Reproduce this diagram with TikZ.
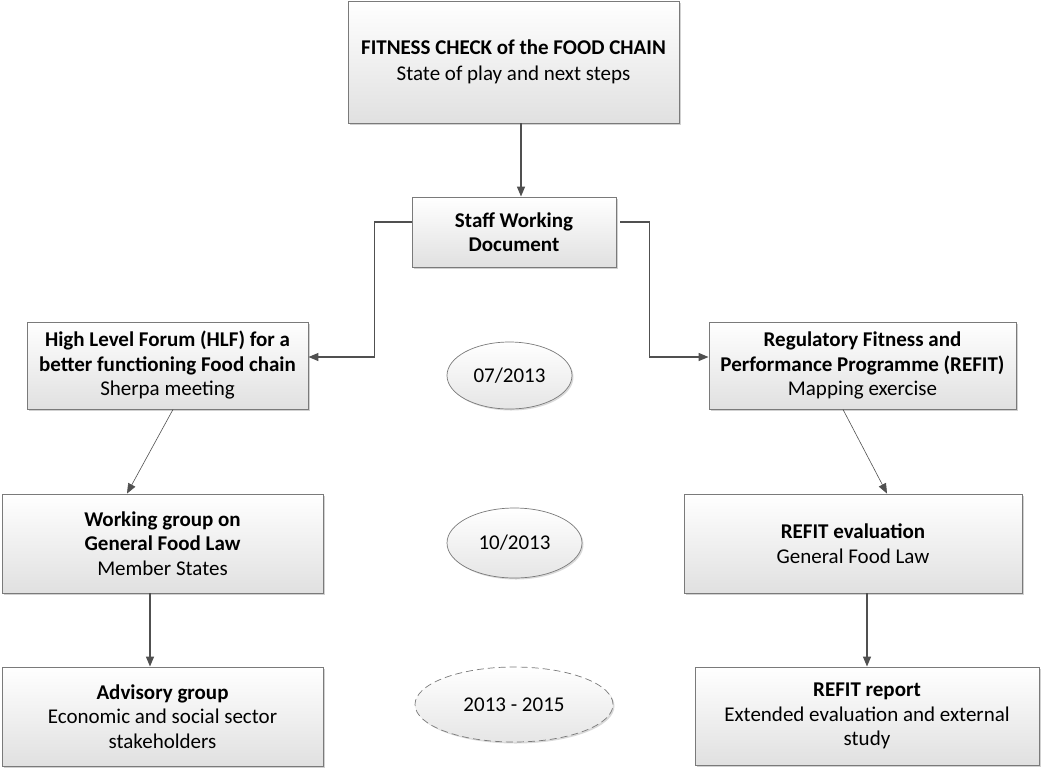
\documentclass[tikz,border=0pt]{standalone}
\usepackage{fontspec}
\setmainfont{Carlito}
\usetikzlibrary{arrows.meta,shadows,shapes.geometric}
\definecolor{linegray}{HTML}{505050}
\definecolor{edgegray}{HTML}{7A7A7A}
\tikzset{
  x=1pt,y=-1pt,
  box/.style={draw=edgegray,line width=0.9pt,top color=white,bottom color=black!12,
    align=center,inner sep=2pt,font=\fontsize{21}{24.5}\selectfont,
    drop shadow={shadow xshift=2pt,shadow yshift=-2pt,fill=black,opacity=0.18}},
  dateov/.style={ellipse,draw=edgegray,line width=0.7pt,top color=white,bottom color=black!10,
    font=\fontsize{21}{24.5}\selectfont,inner sep=0pt,
    drop shadow={shadow xshift=1.5pt,shadow yshift=-1.5pt,fill=black,opacity=0.15}},
  conn/.style={draw=linegray,line width=1.3pt,-{Triangle[length=10pt,width=8pt]}},
  thinconn/.style={draw=linegray,line width=0.6pt,-{Triangle[length=10pt,width=8pt]}}
}
\begin{document}
\begin{tikzpicture}
\useasboundingbox (0,0) rectangle (1041,769);

% boxes
\node[box,minimum width=331pt,minimum height=122pt] (top) at (513.5,62)
  {\textbf{FITNESS CHECK of the FOOD CHAIN}\\[1.5pt]State of play and next steps};
\node[box,minimum width=204pt,minimum height=70pt] (staff) at (514,232)
  {\textbf{Staff Working}\\\textbf{Document}};
\node[box,minimum width=281pt,minimum height=87pt] (hlf) at (167.5,365.5)
  {\textbf{High Level Forum (HLF) for a}\\\textbf{better functioning Food chain}\\Sherpa meeting};
\node[box,minimum width=307pt,minimum height=87pt] (refit) at (862.5,365.5)
  {\textbf{Regulatory Fitness and}\\\textbf{Performance Programme (REFIT)}\\Mapping exercise};
\node[box,minimum width=321pt,minimum height=99pt] (wg) at (162.5,543.5)
  {\textbf{Working group on}\\\textbf{General Food Law}\\Member States};
\node[box,minimum width=338pt,minimum height=99pt] (reval) at (853,543.5)
  {\textbf{REFIT evaluation}\\General Food Law};
\node[box,minimum width=321pt,minimum height=99pt] (adv) at (162.5,716.5)
  {\textbf{Advisory group}\\Economic and social sector\\stakeholders};
\node[box,minimum width=344pt,minimum height=98pt] (rrep) at (867,716)
  {\textbf{REFIT report}\\Extended evaluation and external\\study};

% dates
\node[dateov,minimum width=125pt,minimum height=67pt] (d1) at (509.5,375.5) {07/2013};
\node[dateov,minimum width=135pt,minimum height=70pt] (d2) at (514.5,543) {10/2013};
\node[dateov,dashed,dash pattern=on 7pt off 4pt,minimum width=198pt,minimum height=75pt] (d3) at (514,704.5) {2013 - 2015};

% connectors
\draw[conn] ([xshift=7.5pt]top.south) -- ([xshift=7pt]staff.north);
\draw[conn] ([yshift=10pt]staff.west) -- ++(-37,0) |- ([yshift=8.5pt]hlf.east);
\draw[conn] ([xshift=4pt,yshift=10pt]staff.east) -- ++(29,0) |- ([yshift=8.5pt]refit.west);
\draw[thinconn] ([xshift=5.5pt]hlf.south) -- ([xshift=-35.5pt]wg.north);
\draw[thinconn] ([xshift=-19.5pt]refit.south) -- ([xshift=34pt]reval.north);
\draw[conn] ([xshift=-12.5pt]wg.south) -- ([xshift=-12.5pt]adv.north);
\draw[conn] ([xshift=14pt]reval.south) -- (rrep.north);
\end{tikzpicture}
\end{document}
